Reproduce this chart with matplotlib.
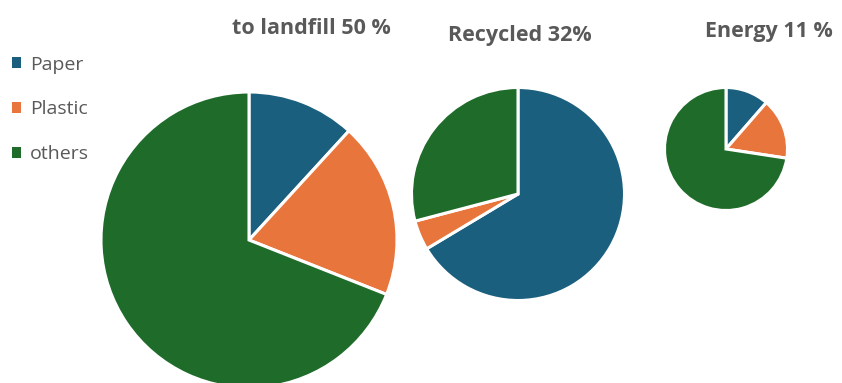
import matplotlib
matplotlib.use("Agg")
import matplotlib.pyplot as plt

categories = ["Paper", "Plastic", "others"]
titles = ["to landfill 50 %", "Recycled 32%", "Energy 11 %"]
landfill = [11.8, 19.2, 69.0]
recycled = [66.4, 4.5, 29.1]
energy = [11.4, 16.0, 72.6]
series = [landfill, recycled, energy]
colors = ["#1b5f7e", "#e8753b", "#1e6b2a"]

W, H = 842, 383
fig = plt.figure(figsize=(W / 100, H / 100), dpi=100)
fig.patch.set_facecolor("white")

# pie geometry in pixels (center x, center y from top, radius)
geo = [(249, 240, 148), (518, 194, 106.5), (726, 149, 61.5)]
title_pos = [(311, 28), (520, 35), (769, 31)]
pad = 1.05
txtcol = "#595959"
wedges0 = None
for vals, (cx, cy, r), t, (tx, ty) in zip(series, geo, titles, title_pos):
    R = r * pad
    ax = fig.add_axes([(cx - R) / W, (H - cy - R) / H, 2 * R / W, 2 * R / H])
    w, _ = ax.pie(vals, colors=colors, startangle=90, counterclock=False,
                  radius=1.0, wedgeprops=dict(edgecolor="white", linewidth=2.2))
    ax.set_xlim(-pad, pad)
    ax.set_ylim(-pad, pad)
    ax.set_aspect("equal")
    ax.axis("off")
    if wedges0 is None:
        wedges0 = w
    fig.text(tx / W, 1 - ty / H, t, ha="center", va="center", fontsize=15.5,
             fontweight="bold", color=txtcol, family=["Open Sans", "DejaVu Sans"])

leg = fig.legend(wedges0, categories, loc="upper left",
                 bbox_to_anchor=(-6 / W, 1 - 38 / H), frameon=False,
                 handlelength=0.5, handleheight=0.5, handletextpad=0.45,
                 labelspacing=1.38, prop={"family": "Open Sans", "size": 14})
for txt in leg.get_texts():
    txt.set_color(txtcol)
for h in leg.legend_handles:
    h.set_edgecolor("none")

fig.savefig("out.png", dpi=100, facecolor="white")
